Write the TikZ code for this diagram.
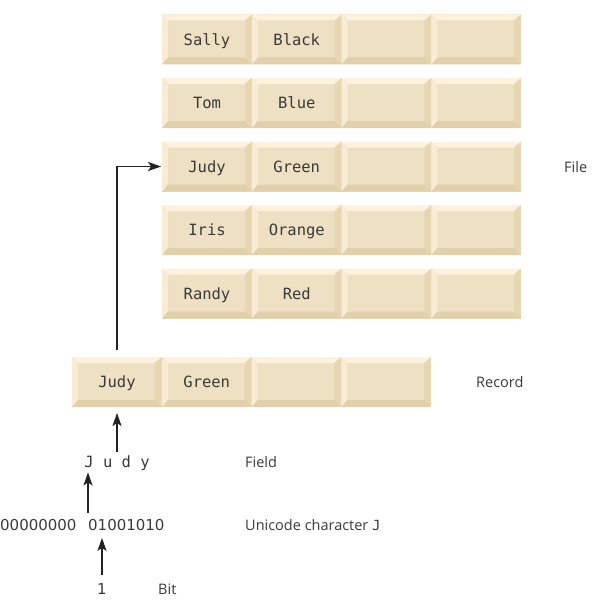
\documentclass[tikz,border=0pt]{standalone}
\usepackage{fontspec}
\setmainfont{Open Sans}
\newfontfamily\monofont{DejaVu Sans Mono}
\newfontfamily\digitfont{DejaVu Sans}
\usetikzlibrary{positioning,arrows.meta,calc}

\definecolor{cellmid}{HTML}{EEE0C2}
\definecolor{bevtop}{HTML}{FEF2DE}
\definecolor{bevleft}{HTML}{FAECD4}
\definecolor{bevright}{HTML}{E6D6B2}
\definecolor{bevbottom}{HTML}{E2D0AA}
\definecolor{txt}{HTML}{3A3A3A}
\definecolor{arrowc}{HTML}{222222}

\tikzset{
  bevel/.style={path picture={
      \coordinate (nw) at (path picture bounding box.north west);
      \coordinate (ne) at (path picture bounding box.north east);
      \coordinate (se) at (path picture bounding box.south east);
      \coordinate (sw) at (path picture bounding box.south west);
      \fill[bevtop] (nw) -- (ne) -- ([shift={(-7pt,-6pt)}]ne) -- ([shift={(6pt,-6pt)}]nw) -- cycle;
      \fill[bevleft] (nw) -- ([shift={(6pt,-6pt)}]nw) -- ([shift={(6pt,7pt)}]sw) -- (sw) -- cycle;
      \fill[bevright] (ne) -- (se) -- ([shift={(-7pt,7pt)}]se) -- ([shift={(-7pt,-6pt)}]ne) -- cycle;
      \fill[bevbottom] (sw) -- ([shift={(6pt,7pt)}]sw) -- ([shift={(-7pt,7pt)}]se) -- (se) -- cycle;
    }},
  cell/.style={minimum width=89.75pt, minimum height=50pt, inner sep=0pt, outer sep=0pt,
    fill=cellmid, text=txt, text height=11.3pt, text depth=0pt,
    font=\monofont\fontsize{15.5}{18}\selectfont, bevel},
  lbl/.style={inner sep=0pt, text=txt, anchor=base west, font=\fontsize{14.5}{17}\selectfont},
  mono/.style={inner sep=0pt, text=txt, font=\monofont\fontsize{15.5}{18}\selectfont},
  digits/.style={inner sep=0pt, text=txt, font=\digitfont\fontsize{15}{18}\selectfont},
  arrow/.style={-{Stealth[length=13pt,width=9pt,inset=3pt]}, line width=1.8pt, draw=arrowc},
}

\begin{document}
\begin{tikzpicture}[x=1pt, y=-1pt]
  \useasboundingbox (0,0) rectangle (599,610);

  % file: five records
  \foreach \first/\colour [count=\i from 0] in {Sally/Black, Tom/Blue, Judy/Green, Iris/Orange, Randy/Red} {
    \node[cell] (f\i a) at (207, {39.5+63.5*\i}) {\first};
    \node[cell, right=0pt of f\i a] (f\i b) {\colour};
    \node[cell, right=0pt of f\i b] (f\i c) {};
    \node[cell, right=0pt of f\i c] (f\i d) {};
  }
  \node[lbl] (filelbl) at (564,172) {File};

  % one record
  \node[cell] (reca) at (117,382) {Judy};
  \node[cell, right=0pt of reca] (recb) {Green};
  \node[cell, right=0pt of recb] (recc) {};
  \node[cell, right=0pt of recc] (recd) {};
  \node[lbl] (reclbl) at (476,387) {Record};

  % field, character, bit
  \node[mono, anchor=base] (field) at (117,467) {J u d y};
  \node[lbl] (fieldlbl) at (245,467) {Field};
  \node[digits, anchor=base west] (hibyte) at (0,530.5) {00000000};
  \node[digits, anchor=base west] (lobyte) at (88,530.5) {01001010};
  \node[lbl] (unilbl) at (245,530.5) {Unicode character {\monofont\fontsize{14}{16}\selectfont J}};
  \node[digits, anchor=base] (bit) at (102,594.5) {1};
  \node[lbl] (bitlbl) at (158,594.5) {Bit};

  \draw[arrow] ([yshift=8pt]bit.north) -- ([yshift=-7pt]bit.north |- lobyte.south);
  \draw[arrow] ([yshift=6pt]lobyte.north west) -- ([yshift=-2pt]lobyte.north west |- field.south);
  \draw[arrow] ([yshift=3pt]field.north) -- ([yshift=-6pt]field.north |- reca.south);
  \draw[arrow] ([yshift=7pt]reca.north) |- ([xshift=-1pt]f2a.west);
\end{tikzpicture}
\end{document}
